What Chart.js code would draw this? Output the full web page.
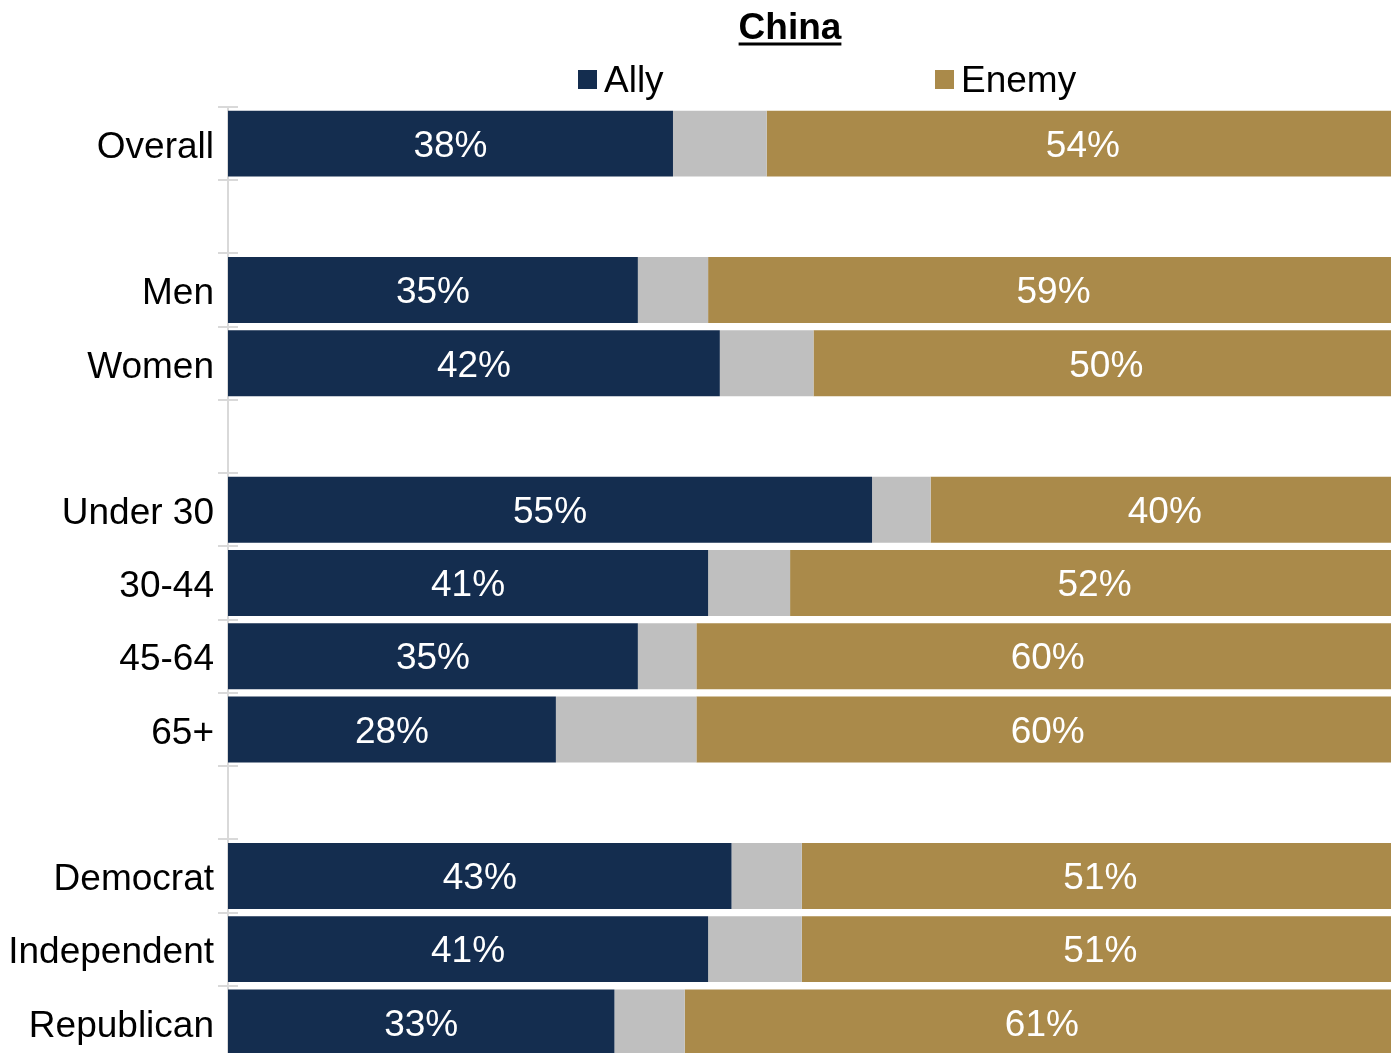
<!DOCTYPE html>
<html><head><meta charset="utf-8">
<script src="https://cdn.jsdelivr.net/npm/chart.js@4.4.0/dist/chart.umd.min.js"></script>
<style>
html,body{margin:0;padding:0;background:#fff;overflow:hidden;}
#wrap{width:1399px;height:1059px;position:relative;}
</style></head><body>
<div id="wrap"><canvas id="c"></canvas></div>
<script>
const categories = ['Overall','','Men','Women','','Under 30','30-44','45-64','65+','','Democrat','Independent','Republican'];
const allyValues = [38,null,35,42,null,55,41,35,28,null,43,41,33];
const neutralValues = [8,null,6,8,null,5,7,5,12,null,6,8,6];
const enemyValues = [54,null,59,50,null,40,52,60,60,null,51,51,61];
const seriesNames = ['Ally','Neither','Enemy'];
const legendSeries = ['Ally','Enemy'];
const chartTitle = 'China';
const xMax = 100;

const FONT = "'Liberation Sans', Arial, sans-serif";
const colors = ['#142d4f','#bfbfbf','#aa8a4a'];
const labeled = [true,false,true];

const extraPlugin = {
  id: 'extras',
  afterDatasetsDraw(chart) {
    const ctx = chart.ctx;
    const ys = chart.scales.y;
    const n = categories.length;
    const slot = (ys.bottom - ys.top) / n;
    ctx.save();
    ctx.strokeStyle = '#d9d9d9';
    ctx.lineWidth = 2;
    for (let i = 0; i <= n; i++) {
      const y = Math.round(ys.getPixelForValue(Math.min(i, n - 1)) + (i < n ? -slot / 2 : slot / 2));
      ctx.beginPath();
      ctx.moveTo(ys.right, y);
      ctx.lineTo(ys.right + 10, y);
      ctx.stroke();
    }
    ctx.font = '37px ' + FONT;
    ctx.fillStyle = '#ffffff';
    ctx.textAlign = 'center';
    ctx.textBaseline = 'middle';
    chart.data.datasets.forEach((ds, di) => {
      if (!labeled[di]) return;
      const meta = chart.getDatasetMeta(di);
      meta.data.forEach((bar, i) => {
        const v = ds.data[i];
        if (v === null || v === undefined) return;
        const p = bar.getProps(['x','y','base'], true);
        ctx.fillText(v + '%', (p.x + p.base) / 2, p.y + 3);
      });
    });
    ctx.restore();
  },
  afterDraw(chart) {
    const ctx = chart.ctx;
    ctx.save();
    ctx.font = 'bold 37px ' + FONT;
    ctx.fillStyle = '#000';
    ctx.textAlign = 'center';
    ctx.textBaseline = 'alphabetic';
    const tx = 790;
    ctx.fillText(chartTitle, tx, 39);
    const w = ctx.measureText(chartTitle).width;
    ctx.fillRect(tx - w / 2, 42.5, w, 3);
    const legendX = [578, 935];
    ctx.font = '37px ' + FONT;
    ctx.textAlign = 'left';
    legendSeries.forEach((name, k) => {
      const di = seriesNames.indexOf(name);
      ctx.fillStyle = chart.data.datasets[di].backgroundColor;
      ctx.fillRect(legendX[k], 70, 19, 19);
      ctx.fillStyle = '#000';
      ctx.fillText(name, legendX[k] + 26, 92);
    });
    ctx.restore();
  }
};

new Chart(document.getElementById('c'), {
  type: 'bar',
  data: {
    labels: categories,
    datasets: [allyValues, neutralValues, enemyValues].map((d, i) => ({
      label: seriesNames[i],
      data: d,
      backgroundColor: colors[i],
      borderWidth: 0,
      barPercentage: 0.9,
      categoryPercentage: 1.0
    }))
  },
  options: {
    indexAxis: 'y',
    responsive: true,
    maintainAspectRatio: false,
    animation: false,
    layout: { padding: { top: 107, right: 0, bottom: 0, left: 0 } },
    scales: {
      x: { stacked: true, min: 0, max: xMax, display: false },
      y: {
        stacked: true,
        grid: { offset: true, drawOnChartArea: false, drawTicks: true, tickLength: 10, color: '#d9d9d9', lineWidth: 2 },
        border: { display: true, color: '#d9d9d9', width: 2 },
        ticks: { font: { family: FONT, size: 37 }, color: '#000', padding: 4, autoSkip: false, labelOffset: 4 },
        afterFit(s) { s.width = 228; s.paddingTop = 0; s.paddingBottom = 0; }
      }
    },
    plugins: { legend: { display: false }, tooltip: { enabled: false } }
  },
  plugins: [extraPlugin]
});
</script>
</body></html>
